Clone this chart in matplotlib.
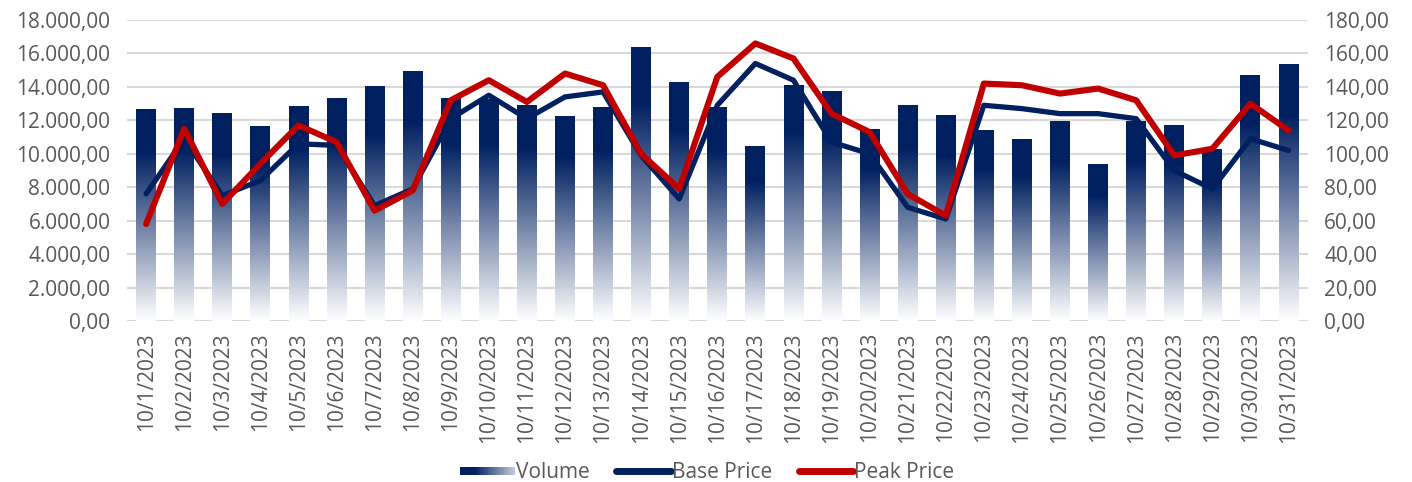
import matplotlib
matplotlib.use("Agg")
import matplotlib.pyplot as plt
import numpy as np
from matplotlib.colors import LinearSegmentedColormap
from matplotlib.patches import Rectangle
from matplotlib.legend_handler import HandlerBase
from matplotlib.ticker import FuncFormatter, MultipleLocator

dates = [f"10/{d}/2023" for d in range(1, 32)]

volume = [12620, 12680, 12380, 11660, 12800, 13280, 14050, 14890, 13280, 13220,
          12860, 12200, 12740, 16330, 14290, 12740, 10410, 14110, 13700, 11480,
          12860, 12260, 11420, 10830, 11900, 9330, 11900, 11720, 10230, 14710, 15310]

base_price = [76, 109, 75, 84, 106, 105, 69, 79, 121, 135, 121, 134, 137, 99, 73,
              129, 154, 144, 107, 100, 68, 61, 129, 127, 124, 124, 121, 90, 79, 109, 102]

peak_price = [58, 115, 70, 94, 117, 107, 66, 78, 132, 144, 131, 148, 141, 100, 79,
              146, 166, 157, 124, 113, 76, 63, 142, 141, 136, 139, 132, 99, 103, 130, 114]

navy = "#002060"
red = "#C00000"
grey = "#595959"

plt.rcParams["font.family"] = ["Open Sans", "DejaVu Sans"]

# kolormap: hvit nederst, mørkeblå øverst
cmap = LinearSegmentedColormap.from_list("vol", [(0, "#ffffff"), (0.8, navy), (1, navy)])


def de_fmt(v, _):
    s = f"{v:,.2f}"
    return s.replace(",", "X").replace(".", ",").replace("X", ".")


class GradientHandler(HandlerBase):
    def create_artists(self, legend, orig_handle, xdescent, ydescent, width, height, fontsize, trans):
        n = 30
        arts = []
        h = height * 0.55
        y0 = -ydescent + (height - h) / 2
        for i in range(n):
            c = cmap(1 - 0.8 * i / (n - 1))
            r = Rectangle((-xdescent + width * i / n, y0), width / n + 0.3, h,
                          facecolor=c, edgecolor="none", transform=trans)
            arts.append(r)
        return arts


fig = plt.figure(figsize=(14.12, 4.82), dpi=100)
ax = fig.add_axes([0.09, 0.334, 0.836, 0.6245])
ax2 = ax.twinx()

x = np.arange(len(dates))
w = 0.52
grad = np.linspace(0, 1, 256).reshape(-1, 1)
for xi, h in zip(x, volume):
    ax.imshow(grad, extent=[xi - w / 2, xi + w / 2, 0, h], origin="lower",
              aspect="auto", cmap=cmap, zorder=2, interpolation="bilinear")

ax.set_xlim(-0.5, len(dates) - 0.5)
ax.set_ylim(0, 18000)
ax.yaxis.set_major_locator(MultipleLocator(2000))
ax.yaxis.set_major_formatter(FuncFormatter(de_fmt))
ax.grid(axis="y", color="#d9d9d9", linewidth=1.5, zorder=0)
ax.set_axisbelow(True)
ax.set_xticks(x)
ax.set_xticklabels(dates, rotation=90)

ax2.plot(x, base_price, color=navy, linewidth=3.8, solid_capstyle="round", zorder=3)
ax2.plot(x, peak_price, color=red, linewidth=4.4, solid_capstyle="round", zorder=4)
ax2.set_ylim(0, 180)
ax2.yaxis.set_major_locator(MultipleLocator(20))
ax2.yaxis.set_major_formatter(FuncFormatter(de_fmt))

for a in (ax, ax2):
    for s in a.spines.values():
        s.set_visible(False)
    a.tick_params(length=0, labelsize=15, labelcolor=grey)
ax.tick_params(axis="x", pad=8)
ax.tick_params(axis="y", pad=12)
ax2.tick_params(axis="y", pad=12)

vol_handle = Rectangle((0, 0), 1, 1)
base_handle, = ax2.plot([], [], color=navy, linewidth=5, solid_capstyle="round")
peak_handle, = ax2.plot([], [], color=red, linewidth=5, solid_capstyle="round")
fig.legend([vol_handle, base_handle, peak_handle], ["Volume", "Base Price", "Peak Price"],
           loc="center", bbox_to_anchor=(0.501, 0.02), ncol=3, frameon=False,
           fontsize=15, labelcolor=grey, handlelength=2.6, handletextpad=0.05,
           columnspacing=1.3, handler_map={Rectangle: GradientHandler()})

fig.savefig("out.png", dpi=100)
